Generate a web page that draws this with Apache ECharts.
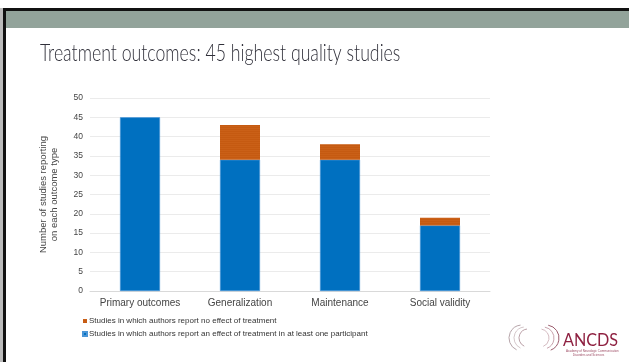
<!DOCTYPE html>
<html>
<head>
<meta charset="utf-8">
<script src="https://cdn.jsdelivr.net/npm/echarts@6/dist/echarts.min.js"></script>
<style>
html,body{margin:0;padding:0;background:#fff;}
#chart{width:629px;height:362px;}
</style>
</head>
<body>
<div id="chart"></div>
<script>
var categories = ['Primary outcomes', 'Generalization', 'Maintenance', 'Social validity'];
var effectValues = [45, 34, 34, 17];
var noEffectValues = [0, 9, 4, 2];
var yTicks = [0, 5, 10, 15, 20, 25, 30, 35, 40, 45, 50];
var seriesNames = ['Studies in which authors report an effect of treatment in at least one participant', 'Studies in which authors report no effect of treatment'];
var titleText = 'Treatment outcomes: 45 highest quality studies';
var yAxisTitle = 'Number of studies reporting\non each outcome type';

var chart = echarts.init(document.getElementById('chart'), null, {renderer: 'canvas'});
var option = {
  animation: false,
  backgroundColor: '#fff',
  grid: {left: 90, right: 139, top: 98, bottom: 71, containLabel: false},
  legend: {
    data: [seriesNames[1], seriesNames[0]],
    orient: 'vertical',
    left: 82, top: 317,
    itemWidth: 4, itemHeight: 4, itemGap: 5,
    icon: 'rect',
    textStyle: {fontFamily: 'Liberation Sans, Arial', fontSize: 8, color: '#333', padding: [0,0,0,-3]},
    padding: 0
  },
  xAxis: {
    type: 'category', data: categories,
    axisLine: {lineStyle: {color: '#D9D9D9'}},
    axisTick: {show: false},
    axisLabel: {interval: 0, fontFamily: 'Liberation Sans, Arial', fontSize: 10, color: '#444', margin: 7}
  },
  yAxis: {
    type: 'value', min: 0, max: 50, interval: 5,
    name: yAxisTitle, nameLocation: 'middle', nameGap: 30, nameRotate: 90,
    nameTextStyle: {fontFamily: 'Liberation Sans, Arial', fontSize: 9.5, color: '#444', lineHeight: 11},
    axisLine: {show: false}, axisTick: {show: false},
    splitLine: {lineStyle: {color: '#EBEBEB'}},
    axisLabel: {fontFamily: 'Liberation Sans, Arial', fontSize: 8.5, color: '#444', margin: 7,
      formatter: function(v){ return yTicks.indexOf(v) >= 0 ? String(v) : ''; }}
  },
  series: [
    {name: seriesNames[0], type: 'bar', stack: 's', data: effectValues, barWidth: 40,
      itemStyle: {color: '#0070C0', borderColor: '#4A95D6', borderWidth: 0.6}},
    {name: seriesNames[1], type: 'bar', stack: 's', data: noEffectValues, barWidth: 40,
      itemStyle: {color: '#C55A11',
        decal: {symbol: 'rect', symbolSize: 0.5, dashArrayX: [2, 0], dashArrayY: [1, 1], rotation: 0, color: 'rgba(235,140,70,0.55)'}}}
  ],
  graphic: [
    {type: 'rect', shape: {x: 0, y: 8, width: 629, height: 3}, style: {fill: '#111'}},
    {type: 'rect', shape: {x: 4, y: 11, width: 625, height: 17}, style: {fill: '#92A39A'}},
    {type: 'rect', shape: {x: 3, y: 8, width: 3, height: 354}, style: {fill: '#111'}},
    {type: 'rect', shape: {x: 0, y: 8, width: 3, height: 354}, style: {fill: '#bbb'}},
    {type: 'text', x: 40, y: 42, scaleX: 0.77,
      style: {text: titleText, font: '300 23px Lato', fill: '#30303A'}},
    {type: 'arc', shape: {cx: 522, cy: 338, r: 13, startAngle: 2.0, endAngle: 4.6}, style: {stroke: '#B7A5AA', lineWidth: 1, fill: null}},
    {type: 'arc', shape: {cx: 525, cy: 338, r: 11, startAngle: 2.0, endAngle: 4.6}, style: {stroke: '#C9B9BD', lineWidth: 0.8, fill: null}},
    {type: 'arc', shape: {cx: 528, cy: 338, r: 9, startAngle: 2.0, endAngle: 4.6}, style: {stroke: '#A88891', lineWidth: 0.8, fill: null}},
    {type: 'arc', shape: {cx: 546, cy: 338, r: 13, startAngle: -1.4, endAngle: 1.2}, style: {stroke: '#9B5B6C', lineWidth: 1, fill: null}},
    {type: 'arc', shape: {cx: 543, cy: 338, r: 11, startAngle: -1.4, endAngle: 1.2}, style: {stroke: '#B98A97', lineWidth: 0.8, fill: null}},
    {type: 'arc', shape: {cx: 540, cy: 338, r: 9, startAngle: -1.4, endAngle: 1.2}, style: {stroke: '#C9A9B1', lineWidth: 0.8, fill: null}},
    {type: 'text', x: 563, y: 332, scaleX: 0.95, style: {text: 'ANCDS', font: '17px Lato', fill: '#8E2040'}},
    {type: 'text', x: 566, y: 349, style: {text: 'Academy of Neurologic Communication\n        Disorders and Sciences', font: '3px Liberation Sans', fill: '#A05068', align: 'left', lineHeight: 4}}
  ]
};
chart.setOption(option);
</script>
</body>
</html>
